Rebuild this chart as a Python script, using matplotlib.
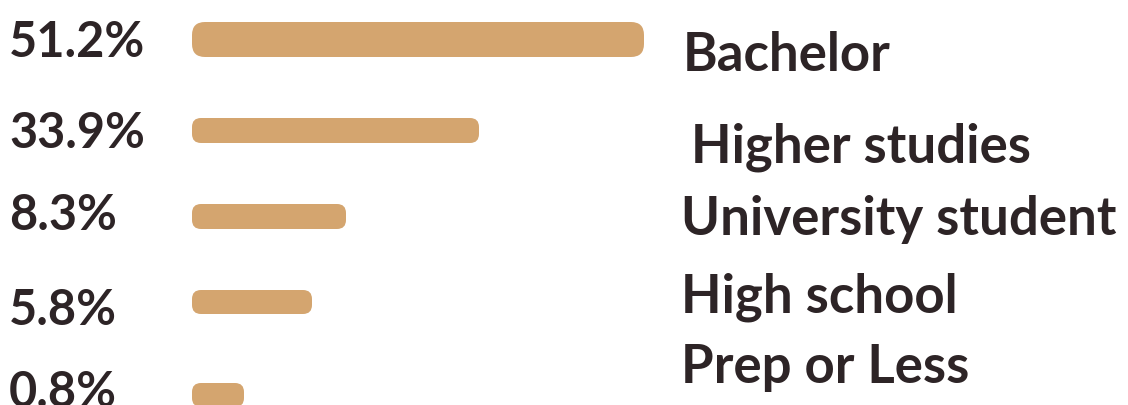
import matplotlib.pyplot as plt
from matplotlib.patches import FancyBboxPatch

# Data
shares = [51.2, 33.9, 8.3, 5.8, 0.8]
categories = ["Bachelor", "Higher studies", "University student", "High school", "Prep or Less"]
# the bars are not drawn to scale in the original, so their lengths are read separately
bar_lengths = [452, 287, 154, 120, 52]

bar_color = "#D4A56F"
text_color = "#2D2426"

# layout (figure is 1128 x 405 px, axes in pixel units, y downward)
bar_x0 = 192
bar_centers = [39.5, 130.5, 216.5, 302, 395]
bar_heights = [35, 25, 25, 24, 24]
bar_radius = [13, 9, 9, 9, 9]
pct_baselines = [57, 148, 230, 325, 407]
label_x = [683, 691, 681, 681, 681]
label_baselines = [71, 162, 235, 312, 383]

plt.rcParams['font.family'] = ['Lato', 'DejaVu Sans']

fig = plt.figure(figsize=(11.28, 4.05), dpi=100)
ax = fig.add_axes([0, 0, 1, 1])
ax.set_xlim(0, 1128)
ax.set_ylim(405, 0)
ax.axis('off')

for i, (val, cat) in enumerate(zip(shares, categories)):
    h = bar_heights[i]
    r = bar_radius[i]
    w = bar_lengths[i]
    box = FancyBboxPatch((bar_x0 + r, bar_centers[i] - h / 2 + r), w - 2 * r, h - 2 * r,
                         boxstyle="round,pad=%s,rounding_size=%s" % (r, r),
                         facecolor=bar_color, edgecolor='none')
    ax.add_patch(box)
    ax.text(9, pct_baselines[i], f"{val}%", fontsize=35, fontweight='bold',
            color=text_color, va='baseline', ha='left')
    ax.text(label_x[i], label_baselines[i], cat, fontsize=38, fontweight='bold',
            color=text_color, va='baseline', ha='left')

plt.savefig("out.png", dpi=100)
